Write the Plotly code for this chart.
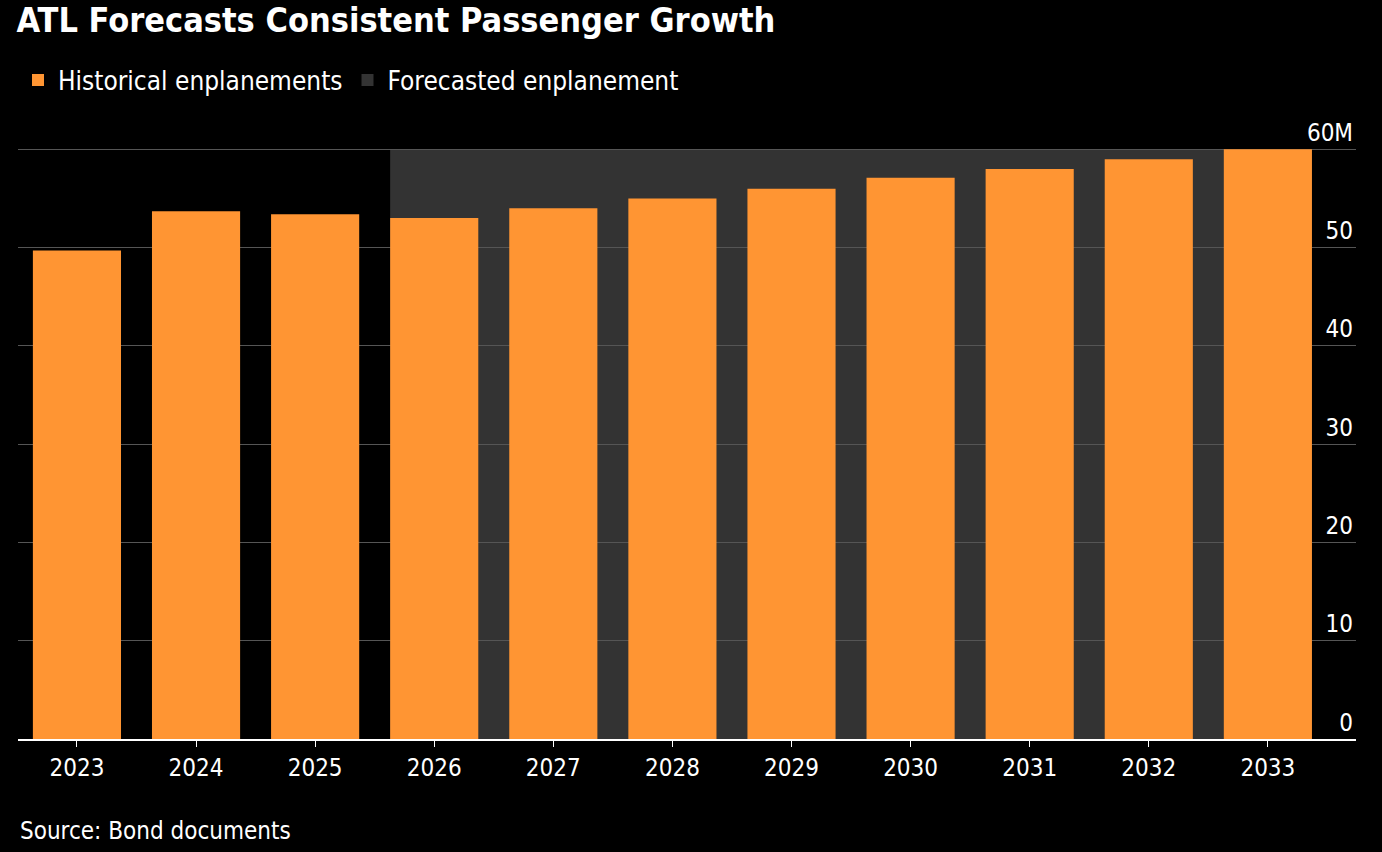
import plotly.graph_objects as go

years = [2023, 2024, 2025, 2026, 2027, 2028, 2029, 2030, 2031, 2032, 2033]
enplanements = [49.7, 53.7, 53.4, 53.0, 54.0, 55.0, 56.0, 57.1, 58.0, 59.0, 60.0]
forecast_start, forecast_end, forecast_top = 2026, 2033, 60
tickvals = [0, 10, 20, 30, 40, 50, 60]
ticktext = ["0", "10", "20", "30", "40", "50", "60M"]

F = "DejaVu Sans Condensed"
fig = go.Figure()
fig.add_trace(go.Bar(x=years, y=enplanements, marker_color="#ff9533", marker_line_width=0,
                     name="Historical enplanements"))
fig.add_trace(go.Bar(x=[None], y=[None], marker_color="#333333", marker_line_width=0,
                     name="Forecasted enplanement"))
fig.add_shape(type="rect", xref="x", yref="y", x0=forecast_start - 0.37, x1=forecast_end + 0.37,
              y0=0, y1=forecast_top, fillcolor="#333333", line_width=0, layer="below")
fig.update_layout(
    width=1382, height=852, paper_bgcolor="black", plot_bgcolor="black",
    margin=dict(l=18, r=26, t=110, b=113),
    bargap=0.26, showlegend=True,
    font=dict(family=F, color="white", size=24),
    title=dict(text="<b>ATL Forecasts Consistent Passenger Growth</b>", x=0.012, xanchor="left",
               y=0.976, yanchor="middle", font=dict(size=34, color="white", family=F)),
    legend=dict(orientation="h", x=0.0, xanchor="left", y=1.085, yanchor="top",
                font=dict(size=26, color="white"), itemsizing="constant", itemwidth=30,
                bgcolor="rgba(0,0,0,0)"),
    xaxis=dict(range=[2022.505, 2033.74], tickvals=years, ticks="outside", ticklen=6,
               tickcolor="white", showline=True, linecolor="white", linewidth=2,
               showgrid=False, zeroline=False, tickfont=dict(size=24, color="white")),
    yaxis=dict(range=[0, 64], side="right", tickvals=tickvals, ticktext=ticktext,
               ticklabelposition="inside top", showgrid=True, gridcolor="#555555", gridwidth=1,
               zeroline=False, tickfont=dict(size=24, color="white"), layer="above traces"),
    annotations=[dict(text="Source: Bond documents", xref="paper", yref="paper", x=0.0, y=-0.172,
                      xanchor="left", yanchor="bottom", showarrow=False,
                      font=dict(size=24, color="white"))],
)
fig.write_html("out.html", config={"displayModeBar": False},
               post_script="document.body.style.margin='0';document.body.style.background='black';")
